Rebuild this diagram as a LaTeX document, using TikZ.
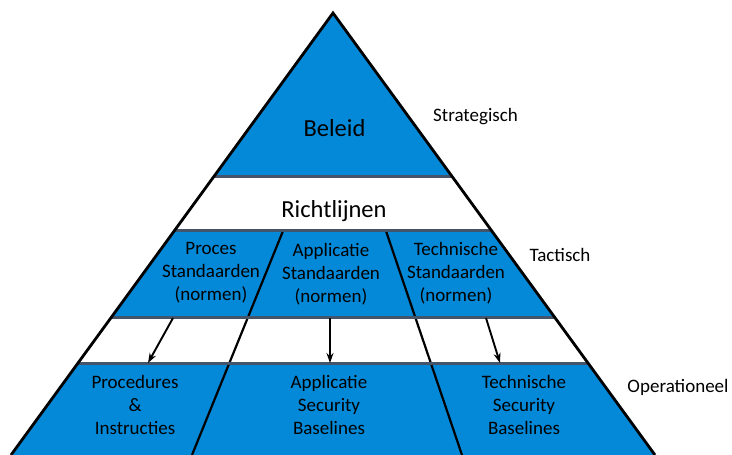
\documentclass[tikz,border=0pt]{standalone}
\usepackage{fontspec}
\setmainfont{Carlito}
\usetikzlibrary{calc,arrows.meta}
\definecolor{pyrblue}{RGB}{3,137,216}
\definecolor{bandline}{RGB}{68,84,106}
\begin{document}
\begin{tikzpicture}[x=1pt,y=-1pt]
\tikzstyle{label text}=[font=\fontsize{19}{22.8}\selectfont,align=center,inner sep=0]
\tikzset{
	big text/.style={font=\fontsize{24.5}{28}\selectfont,inner sep=0,anchor=base},
	side text/.style={font=\fontsize{19}{22.8}\selectfont,inner sep=0,anchor=base},
	edge line/.style={draw=black,line width=2.8pt},
	divider/.style={draw=black,line width=2.2pt},
	band line/.style={draw=bandline,line width=3pt},
	flow arrow/.style={-{Stealth[length=10pt,width=7pt]},line width=1.9pt}
}
\useasboundingbox (0,0) rectangle (732,455);
\clip (0,0) rectangle (732,455);
\coordinate (apex) at (333,13);
\coordinate (base-L) at (11,455);
\coordinate (base-R) at (655,455);
% band edges
\foreach \name/\t in {a/0.3688,b/0.4932,c/0.6878,d/0.7941}{
	\coordinate (\name-L) at ($(apex)!\t!(base-L)$);
	\coordinate (\name-R) at ($(apex)!\t!(base-R)$);
}
\fill[pyrblue] (apex) -- (base-L) -- (base-R) -- cycle;
\fill[white] (a-L) -- (a-R) -- (b-R) -- (b-L) -- cycle;
\fill[white] (c-L) -- (c-R) -- (d-R) -- (d-L) -- cycle;
% column dividers
\coordinate (div1-top) at (283,231);
\coordinate (div1-bot) at (192,455);
\coordinate (div2-top) at (386,231);
\coordinate (div2-bot) at (462,455);
\draw[divider] (div1-top) -- (div1-bot);
\draw[divider] (div2-top) -- (div2-bot);
\foreach \name in {a,b,c,d}
	\draw[band line] (\name-L) -- (\name-R);
\draw[edge line,line join=miter] (base-L) -- (apex) -- (base-R);
% texts
\node[big text] (beleid) at (334.5,136) {Beleid};
\node[big text] (richtlijnen) at (334,217) {Richtlijnen};
\node[label text] (proces) at (211,273) {Proces\\Standaarden\\(normen)};
\node[label text] (applstd) at (331,274) {Applicatie\\Standaarden\\(normen)};
\node[label text] (techstd) at (456,273) {Technische\\Standaarden\\(normen)};
\node[label text] (procedures) at (135,405) {Procedures\\\&\\Instructies};
\node[label text] (applbase) at (329,405) {Applicatie\\Security\\Baselines};
\node[label text] (techbase) at (524,405) {Technische\\Security\\Baselines};
\node[side text] (strategisch) at (475.5,121) {Strategisch};
\node[side text] (tactisch) at (560,261) {Tactisch};
\node[side text] (operationeel) at (678,392) {Operationeel};
% arrows
\coordinate (arr1-s) at (173,318);
\coordinate (arr1-e) at (148,363);
\coordinate (arr2-s) at (330,318);
\coordinate (arr2-e) at (330,363);
\coordinate (arr3-s) at (486,318);
\coordinate (arr3-e) at (500,363);
\draw[flow arrow] (arr1-s) -- (arr1-e);
\draw[flow arrow] (arr2-s) -- (arr2-e);
\draw[flow arrow] (arr3-s) -- (arr3-e);
\end{tikzpicture}
\end{document}
